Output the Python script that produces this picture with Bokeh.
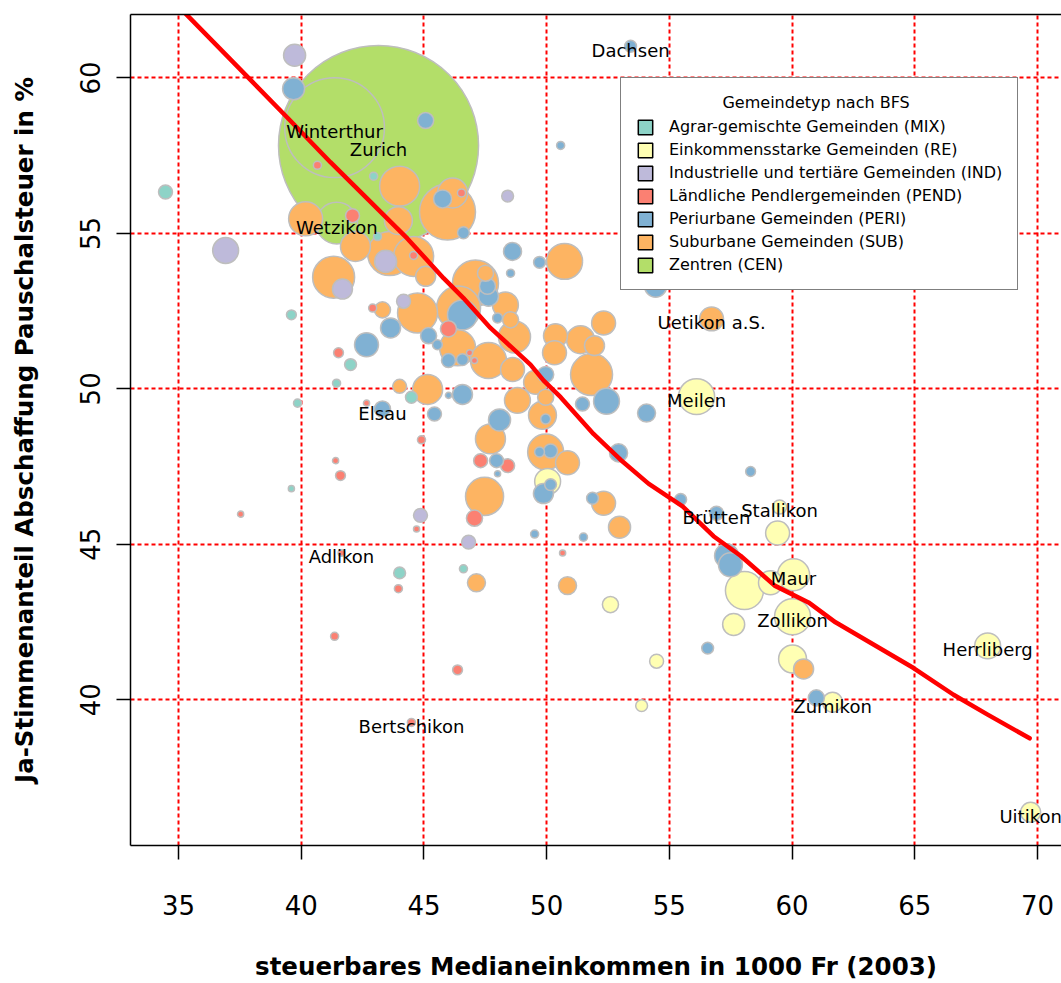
import numpy as np
from bokeh.plotting import figure
from bokeh.models import (ColumnDataSource, Legend, LegendItem, LinearAxis,
                          FixedTicker, Range1d)
from bokeh.embed import file_html
from bokeh.resources import INLINE
from bokeh.core.properties import value

FONT = "DejaVu Sans"

# ---------------- data ----------------
type_codes = ["MIX", "RE", "IND", "PEND", "PERI", "SUB", "CEN"]
type_labels = ["Agrar-gemischte Gemeinden (MIX)",
               "Einkommensstarke Gemeinden (RE)",
               "Industrielle und tertiäre Gemeinden (IND)",
               "Ländliche Pendlergemeinden (PEND)",
               "Periurbane Gemeinden (PERI)",
               "Suburbane Gemeinden (SUB)",
               "Zentren (CEN)"]
legend_title = "Gemeindetyp nach BFS"

gemeindetyp = (["CEN"] * 3 + ["IND"] * 8 + ["MIX"] * 11 + ["PEND"] * 24 +
               ["PERI"] * 47 + ["RE"] * 16 + ["SUB"] * 44)

einkommen = [
    43.15, 41.36, 41.45,
    39.73, 48.41, 36.92, 43.44, 41.68, 44.17, 44.86, 46.82,
    34.47, 42.95, 43.11, 39.60, 42.01, 41.44, 39.85, 44.49, 39.60, 44.01, 46.61,
    40.66, 46.53, 42.09, 44.58, 42.91, 46.00, 46.86, 47.06, 41.52, 42.66, 44.90, 41.40,
    41.60, 37.53, 47.31, 48.41, 47.06, 44.70, 50.65, 41.64, 43.96, 41.36, 46.37, 44.49,
    39.69, 45.07, 53.42, 50.57, 45.76, 46.61, 48.61, 48.53, 49.71, 47.59, 47.63, 46.57,
    48.00, 43.64, 45.19, 45.55, 42.66, 46.00, 46.57, 49.96, 54.44, 46.00, 46.57, 45.43,
    43.31, 52.44, 51.46, 54.07, 48.08, 49.96, 50.16, 49.71, 52.93, 47.96, 48.00, 58.31,
    50.16, 49.87, 51.87, 55.46, 56.92, 49.51, 51.50, 57.33, 57.49, 56.56, 60.99,
    56.11, 50.04, 59.49, 59.41, 58.06, 59.12, 60.06, 60.02, 57.62, 60.02, 52.60, 54.48,
    53.87, 61.65, 67.97, 69.72,
    44.01, 45.96, 46.17, 40.18, 43.96, 42.21, 43.60, 44.58, 45.07, 41.32, 47.10, 47.51,
    50.73, 48.32, 48.53, 46.41, 44.74, 43.31, 48.69, 46.37, 47.63, 48.61, 50.36, 51.38,
    51.95, 52.32, 56.72, 50.32, 51.83, 49.55, 49.96, 48.81, 49.83, 44.01, 45.15, 47.71,
    49.96, 50.85, 47.47, 52.32, 52.97, 47.14, 50.85, 60.47]

ja_anteil = [
    57.83, 58.40, 55.33,
    60.73, 56.20, 54.45, 54.10, 53.21, 52.82, 45.93, 45.07,
    56.33, 56.84, 54.90, 52.38, 50.78, 50.18, 49.54, 49.73, 46.79, 44.08, 44.21,
    57.19, 56.30, 55.57, 54.29, 52.60, 51.93, 51.16, 50.91, 51.16, 49.54, 48.36, 47.69,
    47.21, 45.97, 47.69, 47.53, 45.84, 45.49, 44.72, 44.72, 43.57, 42.04, 40.96, 39.27,
    59.65, 58.63, 61.02, 57.83, 56.11, 55.02, 54.42, 53.72, 54.07, 53.30, 52.98, 52.38,
    52.28, 51.96, 51.71, 51.42, 51.42, 50.91, 50.94, 50.46, 53.30, 49.79, 49.82, 49.19,
    49.35, 49.60, 49.51, 49.22, 49.00, 49.03, 48.00, 47.97, 47.94, 47.69, 47.27, 47.34,
    46.92, 46.63, 46.48, 46.44, 46.00, 45.33, 45.23, 44.63, 44.34, 41.66, 40.06,
    49.75, 47.02, 46.20, 45.36, 43.51, 43.76, 44.02, 42.67, 42.42, 41.31, 43.06, 41.24,
    39.81, 39.92, 41.73, 36.38,
    56.52, 55.69, 56.30, 55.47, 55.41, 54.58, 54.35, 54.26, 53.62, 53.59, 53.40, 53.72,
    54.10, 52.70, 52.22, 52.60, 52.44, 52.54, 51.67, 51.32, 50.91, 50.62, 51.71, 51.58,
    51.39, 52.12, 52.25, 51.16, 50.46, 50.21, 49.73, 49.63, 49.15, 50.08, 49.98, 48.39,
    47.97, 47.62, 46.54, 46.32, 45.55, 43.76, 43.67, 40.99]

# population in 1000 inhabitants (bubble area)
einwohner = [
    370, 92, 16,
    4.5, 1.3, 6.2, 4.5, 3.7, 1.8, 1.8, 1.8,
    1.8, 0.6, 0.6, 0.9, 1.3, 0.6, 0.6, 1.3, 0.35, 1.3, 0.6,
    0.6, 0.6, 1.8, 0.6, 0.6, 2.4, 0.35, 0.35, 0.9, 0.35, 0.6, 0.35,
    0.9, 0.35, 1.8, 1.8, 2.4, 0.35, 0.35, 0.4, 0.6, 0.6, 0.9, 0.6,
    4.5, 2.4, 1.3, 0.6, 3.0, 1.3, 3.0, 0.6, 1.3, 2.4, 3.7, 8.3,
    0.9, 3.7, 2.4, 0.9, 5.3, 1.8, 1.3, 2.4, 4.5, 0.35, 3.7, 1.8,
    2.4, 6.2, 1.8, 3.0, 4.5, 0.9, 1.8, 0.9, 3.0, 1.8, 0.35, 0.9,
    1.3, 3.7, 1.3, 1.3, 1.8, 0.6, 0.6, 5.3, 5.3, 1.3, 2.4,
    12, 6.2, 1.8, 5.3, 13.4, 5.3, 9.5, 12, 4.5, 7.2, 2.4, 1.8,
    1.3, 3.7, 6.2, 3.7,
    14.8, 29, 8.3, 10.7, 7.2, 8.3, 17.9, 14.8, 3.7, 16.3, 19.6, 2.4,
    12, 6.2, 2.4, 17.9, 14.8, 2.4, 9.5, 12, 12, 5.3, 5.3, 7.2,
    3.7, 5.3, 5.3, 5.3, 16.3, 5.3, 2.4, 6.2, 7.2, 1.8, 8.3, 8.3,
    12, 5.3, 13.4, 5.3, 4.5, 3.0, 3.0, 3.7]

namen = [""] * len(einkommen)
label_map = {0: "Zurich", 1: "Winterthur", 2: "Wetzikon", 41: "Adlikon",
             45: "Bertschikon", 48: "Dachsen", 70: "Elsau", 86: "Brütten",
             93: "Meilen", 95: "Stallikon", 99: "Maur", 100: "Zollikon",
             106: "Zumikon", 107: "Herrliberg", 108: "Uitikon", 135: "Uetikon a.S."}
for k, v in label_map.items():
    namen[k] = v

# fitted (loess-like) curve
fit_x = [34.47, 35.29, 39.44, 41.19, 42.70, 44.33, 45.80, 46.61, 47.71, 49.34,
         49.87, 50.57, 51.91, 53.01, 54.15, 55.54, 56.80, 57.90, 59.29, 60.67,
         61.77, 63.16, 64.95, 66.58, 67.97, 69.68]
fit_y = [62.70, 62.07, 58.72, 57.29, 56.11, 54.83, 53.56, 52.92, 51.96, 50.78,
         50.27, 49.73, 48.55, 47.72, 46.95, 46.22, 45.26, 44.63, 43.67, 43.13,
         42.49, 41.85, 41.02, 40.16, 39.52, 38.76]

x_ticks = [35, 40, 45, 50, 55, 60, 65, 70]
y_ticks = [40, 45, 50, 55, 60]

# ---------------- styles ----------------
palette = {"MIX": "#8DD3C7", "RE": "#FFFFB3", "IND": "#BEBADA", "PEND": "#FB8072",
           "PERI": "#80B1D3", "SUB": "#FDB462", "CEN": "#B3DE69"}

n = len(einkommen)
assert len(ja_anteil) == n and len(einwohner) == n and len(gemeindetyp) == n

order = np.argsort(-np.array(einwohner), kind="stable")
src = ColumnDataSource(dict(
    x=[einkommen[i] for i in order],
    y=[ja_anteil[i] for i in order],
    size=[10.4 * np.sqrt(einwohner[i]) for i in order],
    color=[palette[gemeindetyp[i]] for i in order],
))

lab_idx = [i for i in range(n) if namen[i]]
lab_src = ColumnDataSource(dict(
    x=[einkommen[i] for i in lab_idx],
    y=[ja_anteil[i] for i in lab_idx],
    text=[namen[i] for i in lab_idx],
))

p = figure(width=1061, height=983,
           x_range=Range1d(33.044, 70.978), y_range=Range1d(35.311, 62.041),
           output_backend="svg", toolbar_location=None,
           min_border_left=130, min_border_right=0,
           min_border_top=14, min_border_bottom=131)
p.outline_line_color = None
p.background_fill_color = "white"
p.border_fill_color = "white"

# axes
for ax, ticks in ((p.xaxis, x_ticks), (p.yaxis, y_ticks)):
    ax.ticker = FixedTicker(ticks=ticks)
    ax.axis_line_color = "black"
    ax.axis_line_width = 1.5
    ax.major_tick_line_color = "black"
    ax.major_tick_line_width = 1.5
    ax.major_tick_out = 14
    ax.major_tick_in = 0
    ax.minor_tick_line_color = None
    ax.major_label_text_font = FONT
    ax.major_label_text_font_size = "26px"
    ax.major_label_text_color = "black"
    ax.axis_label_text_font = FONT
    ax.axis_label_text_font_size = "24.5px"
    ax.axis_label_text_font_style = "bold"
    ax.axis_label_text_color = "black"

p.xaxis.axis_label = "steuerbares Medianeinkommen in 1000 Fr (2003)"
p.yaxis.axis_label = "Ja-Stimmenanteil Abschaffung Pauschalsteuer in %"
p.xaxis.major_label_standoff = 35
p.xaxis.axis_label_standoff = 34
p.yaxis.major_label_standoff = 16
p.yaxis.axis_label_standoff = 39
p.yaxis.major_label_orientation = "vertical"

top_ax = LinearAxis(ticker=FixedTicker(ticks=[]), axis_line_color="black",
                    axis_line_width=1.5, major_tick_out=0, major_tick_in=0,
                    minor_tick_out=0, minor_tick_in=0,
                    major_label_text_font_size="0px", major_label_standoff=0)
p.add_layout(top_ax, "above")

# grid
for g in (p.xgrid, p.ygrid):
    g.grid_line_color = "red"
    g.grid_line_width = 2
    g.grid_line_dash = "4 3"

# bubbles
p.scatter(x="x", y="y", size="size", source=src, fill_color="color",
          fill_alpha=1.0, line_color="#BEBEBE", line_width=1.5)

# fitted curve
p.line(fit_x, fit_y, line_color="red", line_width=4.5, line_cap="round",
       line_join="round")

# municipality labels
p.text(x="x", y="y", text="text", source=lab_src, text_font=value(FONT),
       text_font_size="18px", text_align="center", text_baseline="middle",
       y_offset=4, text_color="black")

# legend (swatch-only renderers: one undefined row, nothing drawn in the plot)
items = []
for code, lab in zip(type_codes, type_labels):
    nan = np.array([np.nan])
    r = p.quad(left=nan, right=nan, top=nan, bottom=nan, fill_color=palette[code],
               line_color="black", line_width=1.5)
    items.append(LegendItem(label=lab, renderers=[r]))

# the legend title is centred in the box: indent it with no-break spaces
title_indent = "\u00a0" * 17

leg = Legend(items=items, location=(490, 555), title=title_indent + legend_title,
             title_text_font=FONT, title_text_font_size="16px", title_standoff=5,
             title_text_font_style="normal", title_text_color="black",
             label_text_font=FONT, label_text_font_size="16px",
             label_text_color="black",
             label_height=19, glyph_height=18, glyph_width=18, spacing=4,
             padding=15, label_standoff=15, margin=0,
             border_line_color="black", border_line_width=1.5,
             background_fill_color="white", background_fill_alpha=1.0)
p.add_layout(leg)

open("out.html", "w").write(file_html(p, INLINE))
